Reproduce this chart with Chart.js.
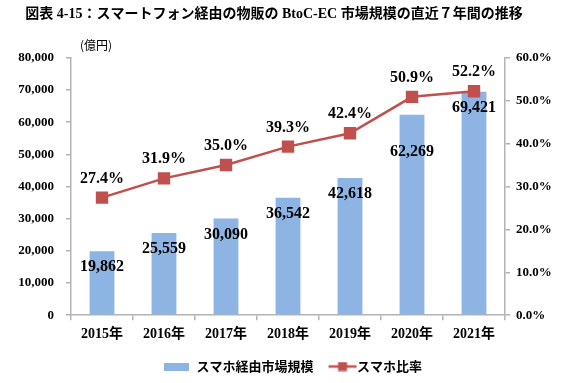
<!DOCTYPE html>
<html><head><meta charset="utf-8">
<script src="https://cdn.jsdelivr.net/npm/chart.js@4/dist/chart.umd.min.js"></script>
<style>html,body{margin:0;padding:0;background:#fff}</style>
</head><body>
<canvas id="c" width="562" height="383" style="width:562px;height:383px;display:block"></canvas>
<script>
const years = ['2015年', '2016年', '2017年', '2018年', '2019年', '2020年', '2021年'];
const marketSize = [19862, 25559, 30090, 36542, 42618, 62269, 69421];
const ratio = [27.4, 31.9, 35.0, 39.3, 42.4, 50.9, 52.2];
const seriesNames = ['スマホ経由市場規模', 'スマホ比率'];
const titleText = '図表 4-15：スマートフォン経由の物販の BtoC-EC 市場規模の直近７年間の推移';
const unitText = '(億円)';

const SERIF = "'Liberation Serif', 'Noto Sans CJK JP', serif";
const SANS = "'Noto Sans CJK JP', sans-serif";
const BAR_COLOR = '#8DB4E2';
const LINE_COLOR = '#C0504D';
const AXIS_COLOR = '#B3B3B3';

function makeBarIcon() {
  const c = document.createElement('canvas');
  c.width = 25; c.height = 8;
  const x = c.getContext('2d');
  x.fillStyle = BAR_COLOR; x.fillRect(0, 0, 25, 8);
  return c;
}
function makeLineIcon() {
  const c = document.createElement('canvas');
  c.width = 40; c.height = 10;
  const x = c.getContext('2d');
  x.strokeStyle = LINE_COLOR; x.lineWidth = 2.5;
  x.beginPath(); x.moveTo(11, 5); x.lineTo(39, 5); x.stroke();
  x.fillStyle = LINE_COLOR; x.fillRect(20.5, 0.5, 9, 9);
  return c;
}
const icons = [makeBarIcon(), makeLineIcon()];

const shiftBlocks = {
  id: 'shiftBlocks',
  afterLayout(chart) {
    if (chart.legend) chart.legend.left += 24;
    if (chart.titleBlock) chart.titleBlock.right -= 14;
  }
};

const valueLabels = {
  id: 'valueLabels',
  afterDatasetsDraw(chart) {
    const ctx = chart.ctx;
    ctx.save();
    ctx.fillStyle = '#000';
    ctx.textAlign = 'center';
    ctx.textBaseline = 'middle';
    ctx.font = 'bold 16px ' + SERIF;
    chart.getDatasetMeta(0).data.forEach((el, i) => {
      const dy = i === 5 ? 37 : 16;
      ctx.fillText(marketSize[i].toLocaleString('en-US'), el.x, el.y + dy);
    });
    chart.getDatasetMeta(1).data.forEach((el, i) => {
      ctx.fillText(ratio[i].toFixed(1) + '%', el.x, el.y - 19);
    });
    ctx.font = '12px ' + SANS;
    ctx.textAlign = 'left';
    ctx.fillText(unitText, chart.chartArea.left + 9, chart.chartArea.top - 12);
    ctx.restore();
  }
};

new Chart(document.getElementById('c'), {
  data: {
    labels: years,
    datasets: [
      {
        type: 'bar', label: seriesNames[0], data: marketSize, yAxisID: 'y',
        backgroundColor: BAR_COLOR, barPercentage: 0.4, categoryPercentage: 1.0, order: 2
      },
      {
        type: 'line', label: seriesNames[1], data: ratio, yAxisID: 'y1',
        borderColor: LINE_COLOR, backgroundColor: LINE_COLOR, borderWidth: 2.5,
        pointStyle: 'rect', pointRadius: 7, pointHoverRadius: 7, tension: 0, order: 1
      }
    ]
  },
  options: {
    responsive: false,
    animation: false,
    layout: { padding: { left: 0, right: 0, top: 0, bottom: 0 } },
    plugins: {
      tooltip: { enabled: false },
      title: {
        display: true, text: titleText, color: '#000',
        font: { family: SERIF, size: 14, weight: 'bold' },
        padding: { top: 6, bottom: 35 }
      },
      legend: {
        position: 'bottom',
        reverse: true,
        labels: {
          usePointStyle: true, pointStyleWidth: 26, boxHeight: 10,
          color: '#000', padding: 11,
          font: { family: SANS, size: 13, weight: 'bold' },
          generateLabels(chart) {
            const items = Chart.defaults.plugins.legend.labels.generateLabels(chart);
            items.forEach(it => { it.pointStyle = icons[it.datasetIndex]; });
            return items;
          }
        }
      }
    },
    scales: {
      x: {
        offset: true,
        grid: { offset: true, drawOnChartArea: false, color: AXIS_COLOR, tickLength: 5, lineWidth: 1.5 },
        border: { color: AXIS_COLOR, width: 1.5 },
        ticks: { color: '#000', padding: 6, font: { family: SERIF, size: 14, weight: 'bold' } }
      },
      y: {
        position: 'left', min: 0, max: 80000,
        afterFit(s) { s.width = 71; },
        grid: { drawOnChartArea: false, color: AXIS_COLOR, tickLength: 5, lineWidth: 1.5 },
        border: { color: AXIS_COLOR, width: 1.5 },
        ticks: {
          stepSize: 10000, color: '#000', padding: 12,
          font: { family: SERIF, size: 13, weight: 'bold' },
          callback: v => v.toLocaleString('en-US')
        }
      },
      y1: {
        position: 'right', min: 0, max: 60,
        afterFit(s) { s.width = 57; },
        grid: { drawOnChartArea: false, color: AXIS_COLOR, tickLength: 5, lineWidth: 1.5 },
        border: { color: AXIS_COLOR, width: 1.5 },
        ticks: {
          stepSize: 10, color: '#000', padding: 6,
          font: { family: SERIF, size: 13, weight: 'bold' },
          callback: v => v.toFixed(1) + '%'
        }
      }
    }
  },
  plugins: [shiftBlocks, valueLabels]
});
</script>
</body></html>
